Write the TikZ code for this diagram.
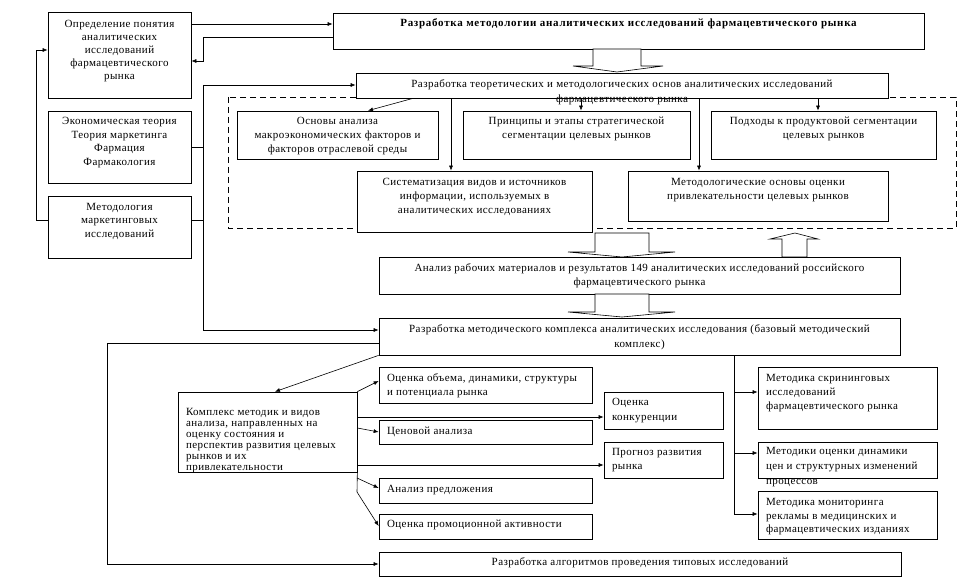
\documentclass[tikz,border=0pt]{standalone}
\usepackage{fontspec}
\setmainfont{Liberation Serif}[LetterSpace=4]
\usetikzlibrary{arrows.meta}
\tikzset{
  box/.style={draw, line width=0.7pt, inner sep=0pt, fill=white},
  arr/.style={-{Latex[length=5pt,width=4pt]}, line width=0.6pt},
  ln/.style={line width=0.6pt},
  hollow/.style={draw, line width=0.6pt, fill=white},
  dashbox/.style={line width=0.6pt, dash pattern=on 6pt off 4pt},
}
\newcommand\bx[9]{%
  \node[box, minimum width={(#4-#2)*1pt}, minimum height={(#5-#3)*1pt}] (#1) at ({(#2+#4)/2},{(#3+#5)/2})
  {\parbox[c][\dimexpr#5pt-#3pt\relax][t]{\dimexpr#4pt-#2pt-16pt\relax}{\fontsize{11pt}{#7pt}\selectfont#8\vspace*{\dimexpr#6pt+2.5pt-\ht\strutbox\relax}\strut#9}};}
\begin{document}
\begin{tikzpicture}[x=1pt,y=-1pt]
\useasboundingbox (0,0) rectangle (961,577);
\draw[dashbox] (228,97) rectangle (956,228);

\bx{def}{48}{12}{191}{98}{13}{13}{\centering}{Определение понятия\\аналитических\\исследований\\фармацевтического\\рынка}
\bx{econ}{48}{111}{191}{183}{11}{13.7}{\centering}{Экономическая теория\\Теория маркетинга\\Фармация\\Фармакология}
\bx{meth}{48}{196}{191}{258}{12}{13.5}{\centering}{Методология\\маркетинговых\\исследований}
\bx{top}{333}{13}{924}{49}{11}{14}{\centering\bfseries\addfontfeature{LetterSpace=6.5}}{Разработка методологии аналитических исследований фармацевтического рынка}
\bx{theor}{356}{73}{888}{98}{12}{15}{\centering}{Разработка теоретических и методологических основ аналитических исследований\\фармацевтического рынка}
\bx{osn}{237}{111}{438}{159}{11}{14}{\centering}{Основы анализа\\макроэкономических факторов и\\факторов отраслевой среды}
\bx{princ}{463}{111}{690}{159}{11}{14}{\centering}{Принципы и этапы стратегической\\сегментации целевых рынков}
\bx{podh}{711}{111}{936}{159}{11}{14}{\centering}{Подходы к продуктовой сегментации\\целевых рынков}
\bx{sist}{357}{171}{592}{232}{12}{14}{\centering}{Систематизация видов и источников\\информации, используемых в\\аналитических исследованиях}
\bx{metod}{628}{171}{888}{221}{12}{14}{\centering}{Методологические основы оценки\\привлекательности целевых рынков}
\bx{analiz}{379}{257}{900}{294}{12}{14}{\centering}{Анализ рабочих материалов и результатов 149 аналитических исследований российского\\фармацевтического рынка}
\bx{razmk}{379}{318}{900}{355}{12}{15}{\centering}{Разработка методического комплекса аналитических исследования (базовый методический\\комплекс)}
\bx{kompl}{178}{392}{357}{472}{21}{11}{\raggedright}{Комплекс методик и видов\\анализа, направленных на\\оценку состояния и\\перспектив развития целевых\\рынков и их\\привлекательности}
\bx{ocobj}{379}{367}{592}{403}{12}{14}{\raggedright}{Оценка объема, динамики, структуры\\и потенциала рынка}
\bx{cen}{379}{420}{592}{444}{12}{14}{\raggedright}{Ценовой анализа}
\bx{predl}{379}{478}{592}{503}{12}{14}{\raggedright}{Анализ предложения}
\bx{promo}{379}{514}{592}{539}{11}{14}{\raggedright}{Оценка промоционной активности}
\bx{alg}{379}{552}{901}{576}{11}{14}{\centering}{Разработка алгоритмов проведения типовых исследований}
\bx{konk}{604}{392}{723}{429}{11}{15}{\raggedright}{Оценка\\конкуренции}
\bx{prog}{604}{442}{723}{478}{11}{14}{\raggedright}{Прогноз развития\\рынка}
\bx{skr}{758}{367}{937}{429}{12}{14}{\raggedright}{Методика скрининговых\\исследований\\фармацевтического рынка}
\bx{din}{758}{442}{937}{478}{10}{15}{\raggedright}{Методики оценки динамики\\цен и структурных изменений\\процессов}
\bx{mon}{758}{491}{937}{539}{12}{13.5}{\raggedright}{Методика мониторинга\\рекламы в медицинских и\\фармацевтических изданиях}

% hollow block arrows
\path[hollow] (593,49) -- (593,66) -- (573,66) -- (617,72) -- (663,66) -- (641,66) -- (641,49) -- cycle;
\path[hollow] (595,233) -- (595,252) -- (568,252) -- (622,257) -- (675,252) -- (649,252) -- (649,233) -- cycle;
\path[hollow] (595,294) -- (595,312) -- (568,312) -- (622,317) -- (675,312) -- (649,312) -- (649,294) -- cycle;
\path[hollow] (782,257) -- (782,239) -- (770,239) -- (795,233) -- (818,239) -- (807,239) -- (807,257) -- cycle;

% left part
\draw[arr] (def.east |- 0,24) -- (top.west |- 0,24);
\draw[arr] (top.west |- 0,37) -- (203,37) -- (203,61) -- (def.east |- 0,61);
\draw[arr] (meth.west |- 0,220) -- (36,220) -- (36,50) -- (def.west |- 0,50);
\draw[arr] (203,85) -- (theor.west |- 0,85);
\draw[ln] (203,85) -- (203,330);
\draw[arr] (203,330) -- (razmk.west |- 0,330);
\draw[ln] (econ.east |- 0,147) -- (203,147);
\draw[ln] (meth.east |- 0,220) -- (203,220);

% from theor box
\draw[arr] (theor.south -| 413,0) -- (osn.north -| 368,0);
\draw[arr] (theor.south -| 451,0) -- (sist.north -| 451,0);
\draw[arr] (theor.south -| 581,0) -- (princ.north -| 581,0);
\draw[arr] (theor.south -| 699,0) -- (metod.north -| 699,0);
\draw[arr] (theor.south -| 818,0) -- (podh.north -| 818,0);

% lower part
\draw[arr] (razmk.west |- 0,343) -- (107,343) -- (107,564) -- (alg.west |- 0,564);
\draw[arr] (razmk.south west) -- (kompl.north -| 275,0);
\draw[arr] (kompl.north east) -- (ocobj.west |- 0,381);
\draw[arr] (kompl.east |- 0,417) -- (konk.west |- 0,417);
\draw[arr] (kompl.east |- 0,428) -- (cen.west |- 0,432);
\draw[arr] (kompl.east |- 0,465) -- (prog.west |- 0,465);
\draw[ln] (kompl.south east) -- (357,492);
\draw[arr] (357,478) -- (predl.west |- 0,488);
\draw[arr] (357,492) -- (promo.west |- 0,526);

\draw[ln] (razmk.south -| 734,0) -- (734,514);
\draw[arr] (734,392) -- (skr.west |- 0,392);
\draw[arr] (734,453) -- (din.west |- 0,453);
\draw[arr] (734,514) -- (mon.west |- 0,514);
\end{tikzpicture}
\end{document}
